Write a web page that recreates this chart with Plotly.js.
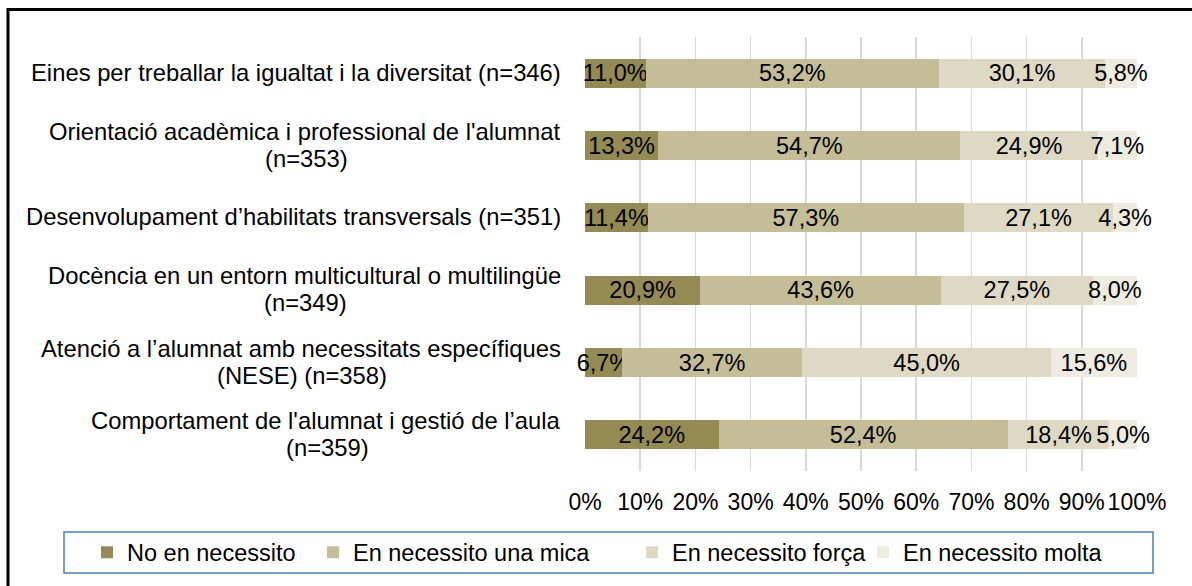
<!DOCTYPE html>
<html>
<head>
<meta charset="utf-8">
<script src="https://cdn.plot.ly/plotly-3.0.1.min.js"></script>
<style>
html,body{margin:0;padding:0;background:#fff;}
#chart{width:1192px;height:586px;}
</style>
</head>
<body>
<div id="chart"></div>
<script>
var categories = [
  "Eines per treballar la igualtat i la diversitat (n=346)",
  "Orientació acadèmica i professional de l'alumnat (n=353)",
  "Desenvolupament d’habilitats transversals (n=351)",
  "Docència en un entorn multicultural o multilingüe (n=349)",
  "Atenció a l’alumnat amb necessitats específiques (NESE) (n=358)",
  "Comportament de l'alumnat i gestió de l’aula (n=359)"
];
// how each category label is broken into lines in the picture
var labelLines = [
  ["Eines per treballar la igualtat i la diversitat (n=346)"],
  ["Orientació acadèmica i professional de l'alumnat", "(n=353)"],
  ["Desenvolupament d’habilitats transversals (n=351)"],
  ["Docència en un entorn multicultural o multilingüe", "(n=349)"],
  ["Atenció a l’alumnat amb necessitats específiques", "(NESE) (n=358)"],
  ["Comportament de l'alumnat i gestió de l’aula", "(n=359)"]
];
var seriesNames = ["No en necessito", "En necessito una mica", "En necessito força", "En necessito molta"];
var noNecessito   = [11.0, 13.3, 11.4, 20.9, 6.7, 24.2];
var unaMica       = [53.2, 54.7, 57.3, 43.6, 32.7, 52.4];
var forca         = [30.1, 24.9, 27.1, 27.5, 45.0, 18.4];
var molta         = [5.8, 7.1, 4.3, 8.0, 15.6, 5.0];
var tickValues    = [0, 10, 20, 30, 40, 50, 60, 70, 80, 90, 100];
var tickLabels    = ["0%", "10%", "20%", "30%", "40%", "50%", "60%", "70%", "80%", "90%", "100%"];

var colors = ["#948A54", "#C4BD97", "#DDD9C4", "#EEECE1"];
var allSeries = [noNecessito, unaMica, forca, molta];
var legendIds = ["legend", "legend2", "legend3", "legend4"];

function fmt(v){ return v.toFixed(1).replace('.', ',') + '%'; }

var FONT = "Liberation Sans, Arial, sans-serif";
var LABEL_SIZE = 23.8;

var measureCtx = document.createElement('canvas').getContext('2d');
measureCtx.font = LABEL_SIZE + 'px "Liberation Sans", Arial, sans-serif';
function textWidth(s){ return measureCtx.measureText(s).width; }

var traces = allSeries.map(function(vals, i){
  return {
    type: 'bar',
    orientation: 'h',
    name: seriesNames[i],
    y: categories,
    x: vals,
    text: vals.map(fmt),
    textposition: 'inside',
    insidetextanchor: 'middle',
    textangle: 0,
    constraintext: 'none',
    cliponaxis: false,
    insidetextfont: {family: FONT, size: 23.5, color: '#000'},
    marker: {color: colors[i], line: {width: 0}},
    legend: legendIds[i],
    hoverinfo: 'x+y+name'
  };
});

// plot area: l=585, r=55 (w=552), t=37, b=115 (h=434)
var L = 585, W = 552, T = 37, H = 434, B = T + H;
function px(x){ return (x - L) / W; }
function py(y){ return (B - y) / H; }

var LABEL_RIGHT_SHIFT = -22;
var annotations = [];
categories.forEach(function(c, i){
  var lines = labelLines[i];
  if (lines.length === 1) {
    annotations.push({
      xref: 'paper', yref: 'y', x: 0, y: c,
      xanchor: 'right', yanchor: 'middle', xshift: LABEL_RIGHT_SHIFT, yshift: 1,
      text: lines[0], showarrow: false,
      font: {family: FONT, size: LABEL_SIZE, color: '#000'}
    });
  } else {
    var w1 = textWidth(lines[0]);
    annotations.push({
      xref: 'paper', yref: 'y', x: 0, y: c,
      xanchor: 'right', yanchor: 'middle', xshift: LABEL_RIGHT_SHIFT, yshift: 14.5,
      text: lines[0], showarrow: false,
      font: {family: FONT, size: LABEL_SIZE, color: '#000'}
    });
    annotations.push({
      xref: 'paper', yref: 'y', x: 0, y: c,
      xanchor: 'center', yanchor: 'middle', xshift: LABEL_RIGHT_SHIFT - w1 / 2 - 1, yshift: -12.5,
      text: lines[1], showarrow: false,
      font: {family: FONT, size: LABEL_SIZE, color: '#000'}
    });
  }
});

var legendSymbolStarts = [107, 333, 652, 883];
var layout = {
  width: 1192, height: 586,
  margin: {l: L, r: 1192 - L - W, t: T, b: 586 - B, pad: 0},
  paper_bgcolor: '#fff', plot_bgcolor: '#fff',
  barmode: 'stack', barnorm: 'percent',
  bargap: 0.6,
  showlegend: true,
  font: {family: FONT, size: 23, color: '#000'},
  xaxis: {
    range: [0, 100], tickvals: tickValues, ticktext: tickLabels,
    showgrid: true, gridcolor: '#D9D9D9', gridwidth: 1.5,
    zeroline: false, showline: false,
    ticks: 'outside', ticklen: 10, tickcolor: 'rgba(0,0,0,0)',
    tickfont: {family: FONT, size: 23, color: '#000'},
    fixedrange: true
  },
  yaxis: {
    type: 'category', autorange: 'reversed',
    showticklabels: false, showgrid: false, zeroline: false, showline: false,
    fixedrange: true
  },
  annotations: annotations,
  shapes: [
    {type: 'rect', xref: 'paper', yref: 'paper',
     x0: px(64), x1: px(1153), y0: py(532), y1: py(573),
     line: {color: '#4A7EBB', width: 1.5}, fillcolor: 'rgba(0,0,0,0)', layer: 'above'},
    {type: 'rect', xref: 'paper', yref: 'paper',
     x0: px(8), x1: px(1210), y0: py(9.5), y1: py(610),
     line: {color: '#000', width: 3}, fillcolor: 'rgba(0,0,0,0)', layer: 'above'}
  ]
};
legendIds.forEach(function(id, i){
  layout[id] = {
    x: px(legendSymbolStarts[i] - 20), xanchor: 'left',
    y: py(552.5), yanchor: 'middle',
    orientation: 'h', bgcolor: 'rgba(0,0,0,0)', borderwidth: 0,
    font: {family: FONT, size: 23.5, color: '#000'},
    itemclick: false, itemdoubleclick: false
  };
});

Plotly.newPlot('chart', traces, layout, {displayModeBar: false, staticPlot: true});
</script>
</body>
</html>
